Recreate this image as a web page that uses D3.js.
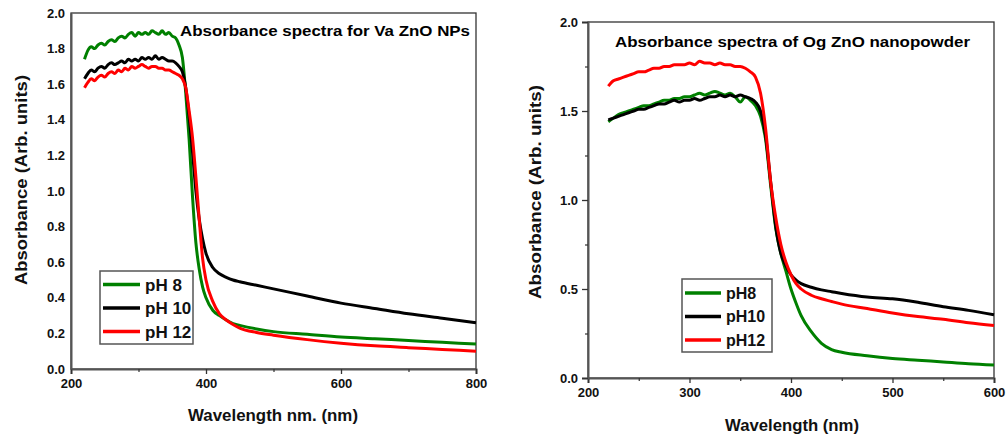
<!DOCTYPE html>
<html><head><meta charset="utf-8">
<script src="https://cdn.jsdelivr.net/npm/d3@7"></script>
<style>body{margin:0;background:#fff}svg{display:block;font-family:"Liberation Sans",Arial,sans-serif;font-weight:bold}</style>
</head><body><svg id="c" width="1008" height="440"></svg>
<script>
// ---- Left panel: Va ZnO NPs ----
const wlVa = [220,225,230,235,240,245,250,255,260,265,270,275,280,285,290,295,300,305,310,315,320,325,330,335,340,345,350,355,
  360,365,370,375,380,385,390,395,400,410,420,430,440,450,475,500,550,600,650,700,750,800];
const vaPH8 = [1.74,1.79,1.81,1.80,1.82,1.83,1.82,1.84,1.85,1.84,1.86,1.87,1.86,1.88,1.89,1.87,1.89,1.88,1.89,1.88,1.90,1.89,1.88,1.90,1.88,1.89,1.87,1.86,
  1.82,1.75,1.55,1.29,0.97,0.71,0.56,0.46,0.40,0.33,0.30,0.275,0.255,0.245,0.225,0.21,0.195,0.18,0.17,0.16,0.15,0.14];
const vaPH10 = [1.63,1.66,1.68,1.67,1.69,1.70,1.69,1.71,1.72,1.71,1.72,1.73,1.72,1.74,1.73,1.74,1.73,1.75,1.74,1.75,1.74,1.76,1.74,1.75,1.74,1.73,1.73,1.72,
  1.70,1.67,1.58,1.42,1.22,1.00,0.84,0.73,0.65,0.57,0.535,0.515,0.50,0.49,0.47,0.45,0.41,0.37,0.34,0.31,0.285,0.26];
const vaPH12 = [1.58,1.61,1.63,1.62,1.64,1.65,1.64,1.66,1.67,1.66,1.68,1.67,1.69,1.68,1.70,1.69,1.70,1.71,1.70,1.69,1.70,1.70,1.69,1.69,1.68,1.68,1.67,1.66,
  1.65,1.63,1.58,1.45,1.30,1.08,0.84,0.62,0.50,0.38,0.31,0.275,0.25,0.23,0.205,0.19,0.165,0.145,0.13,0.12,0.11,0.10];
const vaXTicks = [200,400,600,800];
const vaXMinor = [300,500,700];
const vaYTicks = [0,0.2,0.4,0.6,0.8,1.0,1.2,1.4,1.6,1.8,2.0];
const vaLegend = ["pH 8","pH 10","pH 12"];

// ---- Right panel: Og ZnO nanopowder ----
const wlOg = [220,225,230,235,240,245,250,255,260,265,270,275,280,285,290,295,300,305,310,315,320,325,330,335,340,345,350,355,
  360,365,370,375,380,385,390,395,400,405,410,420,430,440,450,475,500,525,550,575,600];
const ogPH8 = [1.44,1.46,1.48,1.49,1.50,1.51,1.52,1.53,1.53,1.54,1.55,1.56,1.56,1.57,1.57,1.58,1.58,1.59,1.60,1.59,1.60,1.61,1.60,1.59,1.60,1.58,1.55,1.58,
  1.56,1.53,1.47,1.34,1.08,0.84,0.70,0.60,0.50,0.42,0.35,0.26,0.195,0.16,0.145,0.125,0.11,0.10,0.09,0.08,0.073];
const ogPH10 = [1.45,1.46,1.47,1.48,1.49,1.50,1.51,1.51,1.52,1.53,1.54,1.54,1.55,1.56,1.55,1.56,1.56,1.57,1.56,1.57,1.58,1.58,1.59,1.58,1.59,1.58,1.59,1.58,
  1.57,1.55,1.50,1.36,1.10,0.85,0.70,0.63,0.58,0.55,0.53,0.51,0.495,0.485,0.475,0.455,0.445,0.425,0.40,0.38,0.355];
const ogPH12 = [1.64,1.67,1.68,1.69,1.70,1.71,1.72,1.72,1.73,1.74,1.74,1.75,1.75,1.76,1.76,1.76,1.77,1.76,1.78,1.77,1.77,1.76,1.77,1.76,1.76,1.75,1.75,1.74,
  1.72,1.69,1.60,1.40,1.10,0.90,0.75,0.65,0.58,0.53,0.50,0.465,0.445,0.43,0.415,0.39,0.365,0.345,0.33,0.31,0.295];
const ogXTicks = [200,300,400,500,600];
const ogXMinor = [250,350,450,550];
const ogYTicks = [0,0.5,1.0,1.5,2.0];
const ogYMinor = [0.25,0.75,1.25,1.75];
const ogLegend = ["pH8","pH10","pH12"];

const colors = ["#008000","#000000","#ff0000"];
const svg = d3.select("#c");

function panel(cfg){
  const x = d3.scaleLinear().domain(cfg.xd).range(cfg.xr);
  const y = d3.scaleLinear().domain([0,2]).range(cfg.yr);
  const g = svg.append("g");
  g.append("rect").attr("x",cfg.xr[0]).attr("y",cfg.yr[1]).attr("width",cfg.xr[1]-cfg.xr[0]).attr("height",cfg.yr[0]-cfg.yr[1])
    .attr("fill","none").attr("stroke","#333").attr("stroke-width",1.3);
  cfg.series.forEach((s,i)=>{
    const line = d3.line().x((d,j)=>x(cfg.wl[j])).y(d=>y(d)).curve(d3.curveMonotoneX);
    g.append("path").datum(s).attr("d",line).attr("fill","none").attr("stroke",colors[i]).attr("stroke-width",3).attr("stroke-linejoin","round");
  });
  const xa = d3.axisBottom(x).tickValues(cfg.xt).tickFormat(d3.format("d")).tickSize(5).tickPadding(5);
  const gx = g.append("g").attr("transform",`translate(0,${cfg.yr[0]})`).call(xa);
  gx.select(".domain").attr("stroke","#555").attr("stroke-width",2);
  gx.selectAll(".tick line").attr("stroke","#333").attr("stroke-width",1.3);
  gx.selectAll("text").attr("font-size",13).attr("font-weight","bold").attr("fill","#111").attr("font-family","Liberation Sans, Arial, sans-serif");
  g.append("g").attr("transform",`translate(0,${cfg.yr[0]})`)
    .call(d3.axisBottom(x).tickValues(cfg.xm).tickSize(3).tickFormat(""))
    .call(a=>{a.select(".domain").remove(); a.selectAll("line").attr("stroke","#333").attr("stroke-width",1.2);});
  const ya = d3.axisLeft(y).tickValues(cfg.yt).tickFormat(d3.format(".1f")).tickSize(cfg.ytick).tickPadding(cfg.ytick?4:6);
  const gy = g.append("g").attr("transform",`translate(${cfg.xr[0]},0)`).call(ya);
  gy.select(".domain").attr("stroke","#555").attr("stroke-width",2);
  gy.selectAll(".tick line").attr("stroke","#333").attr("stroke-width",1.3);
  gy.selectAll("text").attr("font-size",13).attr("font-weight","bold").attr("fill","#111").attr("font-family","Liberation Sans, Arial, sans-serif");
  if(cfg.ym){
    g.append("g").attr("transform",`translate(${cfg.xr[0]},0)`)
      .call(d3.axisLeft(y).tickValues(cfg.ym).tickSize(3).tickFormat(""))
      .call(a=>{a.select(".domain").remove(); a.selectAll("line").attr("stroke","#333").attr("stroke-width",1.2);});
  }
  g.append("text").attr("x",cfg.title.x).attr("y",cfg.title.y).attr("font-size",cfg.title.fs)
    .attr("textLength",cfg.title.len).attr("lengthAdjust","spacingAndGlyphs").attr("fill","#000").text(cfg.title.t);
  g.append("text").attr("x",cfg.xl.x).attr("y",cfg.xl.y).attr("text-anchor","middle").attr("font-size",cfg.xl.fs)
    .attr("textLength",cfg.xl.len).attr("lengthAdjust","spacingAndGlyphs").attr("fill","#111").text(cfg.xl.t);
  g.append("text").attr("transform",`translate(${cfg.yl.x},${cfg.yl.y}) rotate(-90)`).attr("text-anchor","middle").attr("font-size",cfg.yl.fs)
    .attr("textLength",cfg.yl.len).attr("lengthAdjust","spacingAndGlyphs").attr("fill","#111").text("Absorbance (Arb. units)");
  const L = cfg.leg;
  g.append("rect").attr("x",L.x).attr("y",L.y).attr("width",L.w).attr("height",L.h).attr("fill","#fff").attr("stroke","#555").attr("stroke-width",1.5);
  cfg.labels.forEach((t,i)=>{
    const yy = L.y0 + i*L.dy;
    g.append("line").attr("x1",L.x+3).attr("x2",L.x+3+L.ll).attr("y1",yy).attr("y2",yy).attr("stroke",colors[i]).attr("stroke-width",3.5);
    g.append("text").attr("x",L.x+L.ll+8).attr("y",yy).attr("dy","0.36em").attr("font-size",L.fs).attr("fill","#111").text(t);
  });
}

panel({xd:[200,800], xr:[71,476], yr:[369,13], wl:wlVa, series:[vaPH8,vaPH10,vaPH12],
  xt:vaXTicks, xm:vaXMinor, yt:vaYTicks, ytick:0, ym:null, labels:vaLegend,
  title:{t:"Absorbance spectra for Va ZnO NPs", x:180, y:36, fs:15, len:290},
  xl:{t:"Wavelength nm. (nm)", x:273, y:421, fs:17, len:170},
  yl:{x:27, y:180, fs:17, len:210},
  leg:{x:100, y:271, w:93, h:73, y0:284.5, dy:23.5, ll:37, fs:17}});

panel({xd:[200,600], xr:[588,994], yr:[378,22], wl:wlOg, series:[ogPH8,ogPH10,ogPH12],
  xt:ogXTicks, xm:ogXMinor, yt:ogYTicks, ytick:6, ym:ogYMinor, labels:ogLegend,
  title:{t:"Absorbance spectra of Og ZnO nanopowder", x:615, y:47, fs:15, len:355},
  xl:{t:"Wavelength (nm)", x:792, y:431, fs:17, len:134},
  yl:{x:541, y:192, fs:17, len:214},
  leg:{x:682, y:279, w:90, h:73, y0:293, dy:23.5, ll:36, fs:16}});
</script></body></html>
